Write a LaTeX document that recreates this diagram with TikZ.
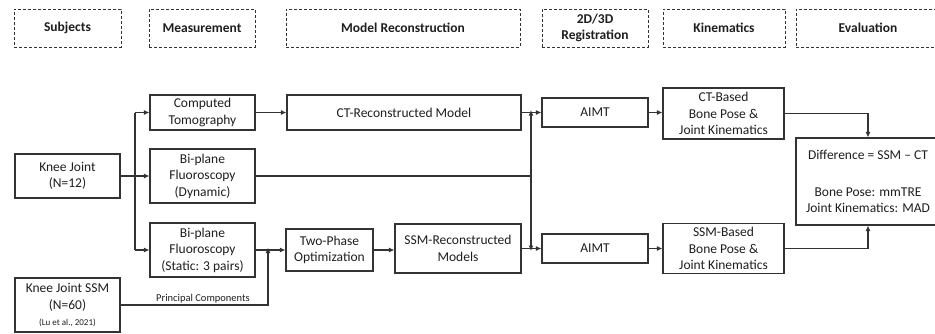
\documentclass[tikz,border=0pt]{standalone}
\usepackage{fontspec}
\setmainfont{Carlito}
\usetikzlibrary{arrows.meta}
\definecolor{ink}{HTML}{1E1E1E}
\definecolor{edge}{HTML}{333333}
\begin{document}
\begin{tikzpicture}[x=1pt,y=-1pt,
  box/.style={draw=edge,line width=1.1pt,rectangle,inner sep=0pt,align=center,
    text=ink,font=\fontsize{13.5}{16.5}\selectfont},
  stage/.style={draw=edge,line width=0.9pt,dash pattern=on 3pt off 2pt,rectangle,
    inner sep=0pt,align=center,minimum height=38pt,text=ink,
    font=\bfseries\fontsize{13.5}{16}\selectfont},
  link/.style={draw=edge,line width=1.1pt},
  arr/.style={link,-{Latex[length=5.5pt,width=5pt]}}]
\useasboundingbox (0,0) rectangle (935,333);
\clip (0,0) rectangle (935,333);

% stage headers
\node[stage,minimum width=107pt] (hsub) at (67.5,28) {Subjects};
\node[stage,minimum width=106pt] (hmeas) at (202,28) {Measurement};
\node[stage,minimum width=234pt] (hmod) at (403,28) {Model Reconstruction};
\node[stage,minimum width=106pt] (hreg) at (595,28) {2D/3D\\Registration};
\node[stage,minimum width=122pt] (hkin) at (724,28) {Kinematics};
\node[stage,minimum width=144pt] (heval) at (868,28) {Evaluation};

% subjects
\node[box,minimum width=105pt,minimum height=44pt] (knee) at (67.5,176) {Knee Joint\\(N=12)};
\node[box,minimum width=105pt,minimum height=54pt] (ssm) at (67.5,305)
  {Knee Joint SSM\\(N=60)\\{\fontsize{9}{12}\selectfont(Lu et al., 2021)}};

% measurement
\node[box,minimum width=105pt,minimum height=35pt] (ct) at (202.5,112.5) {Computed\\Tomography};
\node[box,minimum width=105pt,minimum height=54pt] (dyn) at (202.5,176) {Bi-plane\\Fluoroscopy\\(Dynamic)};
\node[box,minimum width=105pt,minimum height=54pt] (stat) at (202.5,250) {Bi-plane\\Fluoroscopy\\(Static: 3 pairs)};

% model reconstruction
\node[box,minimum width=234pt,minimum height=35pt] (ctrec) at (404,112.5) {CT-Reconstructed Model};
\node[box,minimum width=87pt,minimum height=42pt] (twop) at (329.5,250) {Two-Phase\\Optimization};
\node[box,minimum width=126pt,minimum height=49pt] (ssmrec) at (458,248.5) {SSM-Reconstructed\\Models};

% registration
\node[box,minimum width=106pt,minimum height=29pt] (aimtct) at (595,112.5) {AIMT};
\node[box,minimum width=106pt,minimum height=29pt] (aimtssm) at (595,248.5) {AIMT};

% kinematics
\node[box,minimum width=121pt,minimum height=51pt] (ctb) at (723.5,113.5) {CT-Based\\Bone Pose \&\\Joint Kinematics};
\node[box,minimum width=121pt,minimum height=50pt] (ssmb) at (723.5,248.5) {SSM-Based\\Bone Pose \&\\Joint Kinematics};

% evaluation
\node[box,minimum width=144pt,minimum height=87pt] (eval) at (868,181.5)
  {Difference = SSM – CT\\[20pt]Bone Pose: mmTRE\\Joint Kinematics: MAD};

% junction points
\coordinate (trunk) at (135,176);
\coordinate (pc) at (268,250);
\coordinate (split) at (531,176);

% subjects to measurement
\draw[arr] (knee.east) -- (dyn.west);
\draw[link] (trunk |- ct.west) -- (trunk |- stat.west);
\draw[arr] (trunk |- ct.west) -- (ct.west);
\draw[arr] (trunk |- stat.west) -- (stat.west);

% CT branch
\draw[arr] (ct.east) -- (ctrec.west);
\draw[arr] (ctrec.east) -- (aimtct.west);

% dynamic fluoroscopy feeds both registrations
\draw[link] (dyn.east) -- (split);
\draw[arr] (split) -- ([yshift=2.5pt]split |- aimtct.west);
\draw[arr] (split) -- ([yshift=-2.5pt]split |- aimtssm.west);

% SSM branch
\draw[arr] (stat.east) -- (twop.west);
\draw[arr] (ssm.east) -- (ssm.east -| pc) -- ([yshift=2.5pt]pc);
\node[text=ink,inner sep=0pt,font=\fontsize{10.5}{12}\selectfont] (pclabel) at (203,298.5) {Principal Components};
\draw[arr] (twop.east) -- (twop.east -| ssmrec.west);
\draw[arr] (ssmrec.east) -- (ssmrec.east -| aimtssm.west);

% registration to kinematics
\draw[arr] (aimtct.east) -- (aimtct.east -| ctb.west);
\draw[arr] (aimtssm.east) -- (ssmb.west);

% kinematics to evaluation
\draw[arr] (ctb.east) -| (eval.north);
\draw[arr] (ssmb.east) -| (eval.south);
\end{tikzpicture}
\end{document}
